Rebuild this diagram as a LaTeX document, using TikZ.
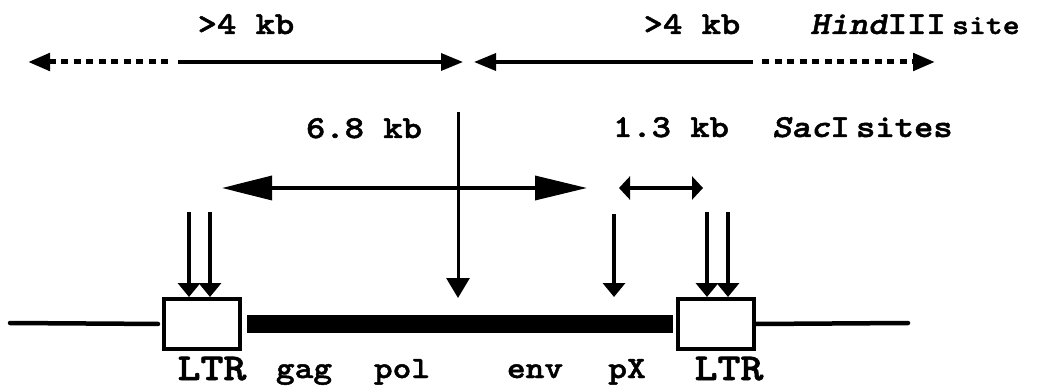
\documentclass[tikz,border=0pt]{standalone}
\usepackage{fontspec}
\setmonofont{lmmono10-regular.otf}[
  BoldFont=lmmonolt10-bold.otf,
  ItalicFont=lmmono10-italic.otf,
  BoldItalicFont=lmmonolt10-boldoblique.otf,
  BoldFeatures={FakeBold=1.5},
  BoldItalicFeatures={FakeBold=1.5},
  FakeStretch=1.15]
\usetikzlibrary{arrows.meta,positioning}
\tikzstyle{lbl} = [font=\ttfamily\bfseries\fontsize{32}{34}\selectfont,
inner sep=0pt, anchor=base]
\tikzstyle{gene} = [font=\ttfamily\bfseries\fontsize{31}{34}\selectfont,
inner sep=0pt, anchor=base]
\tikzstyle{ltrlbl} = [font=\ttfamily\bfseries\fontsize{38}{42}\selectfont,
inner sep=0pt, anchor=base]
\tikzstyle{ltr} = [draw, line width=4pt, minimum width=76pt,
minimum height=50pt, inner sep=0pt]
\tikzstyle{span} = [line width=3.5pt]
\tikzstyle{dots} = [line width=5pt, dash pattern=on 7pt off 5.5pt]
\tikzstyle{site} = [line width=3.5pt, -{Triangle[length=14pt,width=22pt]}]
\tikzstyle{flank} = [line width=4.5pt, line cap=round]
\tikzstyle{genome} = [line width=18pt]

\begin{document}
\begin{tikzpicture}[x=1pt, y=-1pt]
      \useasboundingbox (0,0) rectangle (1038,387);

      % HindIII fragments
      \coordinate (hLtip) at (28,62);
      \coordinate (hLdot) at (168,62);
      \coordinate (hLsol) at (178,62);
      \coordinate (hCl)   at (463,62);
      \coordinate (hCr)   at (474,62);
      \coordinate (hRsol) at (753,62);
      \coordinate (hRdot) at (762,62);
      \coordinate (hRtip) at (935,62);

      \draw [dots, {Triangle[length=22pt,width=17pt]}-] (hLtip) -- (hLdot);
      \draw [span, -{Triangle[length=22pt,width=17pt]}] (hLsol) -- (hCl);
      \draw [span, {Triangle[length=22pt,width=17pt]}-] (hCr) -- (hRsol);
      \draw [dots, -{Triangle[length=22pt,width=17pt]}] (hRdot) -- (hRtip);

      \node[lbl]                  (gtL)  at (246,34) {>4 kb};
      \node[lbl]                  (gtR)  at (692,34) {>4 kb};
      \node[lbl, anchor=base west] (hind) at (810,34)
            {\textit{Hind}III\hspace{0.2em}{\fontsize{28}{30}\selectfont site}};

      % SacI fragments
      \node[lbl]                  (big)   at (364,138) {6.8 kb};
      \node[lbl]                  (small) at (671,137) {1.3 kb};
      \node[lbl, anchor=base west] (sac)   at (772,137) {\textit{Sac}I\hspace{0.2em}sites};

      \coordinate (bigL) at (222,188);
      \coordinate (bigR) at (587,188);
      \coordinate (smL)  at (619,188);
      \coordinate (smR)  at (703,188);

      \draw [span, {Triangle[length=50pt,width=24pt]}-{Triangle[length=52pt,width=24pt]}] (bigL) -- (bigR);
      \draw [span, {Triangle[length=11pt,width=23pt]}-{Triangle[length=11pt,width=23pt]}] (smL) -- (smR);

      % provirus
      \node[ltr] (ltrL) at (202,324) {};
      \node[ltr] (ltrR) at (716,324) {};

      \coordinate (endL) at (10,323);
      \coordinate (endR) at (908,323);
      \draw [flank, shorten >=4pt] (endL) -- (ltrL.west);
      \draw [flank] (ltrR.east) -- (endR);
      \draw [genome] ([xshift=5pt]ltrL.east) -- ([xshift=-3pt]ltrR.west);

      % cut sites
      \coordinate (sL1) at (189,212);
      \coordinate (sL2) at (210,212);
      \coordinate (sR1) at (707,212);
      \coordinate (sR2) at (728,212);
      \coordinate (cut) at (458,112);
      \coordinate (cutEnd) at (458,298);
      \coordinate (pX) at (614,214);
      \coordinate (pXend) at (614,297);

      \draw [site] (sL1) -- (sL1 |- ltrL.north);
      \draw [site] (sL2) -- (sL2 |- ltrL.north);
      \draw [site] (sR1) -- (sR1 |- ltrR.north);
      \draw [site] (sR2) -- (sR2 |- ltrR.north);
      \draw [site] (pX) -- (pXend);
      \draw [line width=3pt, -{Triangle[length=20pt,width=23pt]}] (cut) -- (cutEnd);

      % gene labels
      \node[ltrlbl] (lblL) at (212,380) {LTR};
      \node[gene]   (gag)  at (304,378) {gag};
      \node[gene]   (pol)  at (402,378) {pol};
      \node[gene]   (env)  at (535,378) {env};
      \node[gene]   (px)   at (627,378) {pX};
      \node[ltrlbl] (lblR) at (729,380) {LTR};
\end{tikzpicture}
\end{document}
